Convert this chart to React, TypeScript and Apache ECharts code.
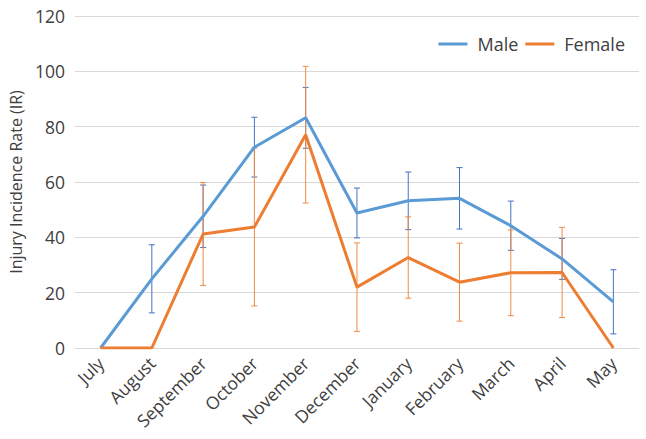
import React, { useEffect, useRef } from "react";
import * as echarts from "echarts";

const months = ["July", "August", "September", "October", "November", "December", "January", "February", "March", "April", "May"];
const maleValues = [0, 25, 47.6, 72.6, 83.2, 48.8, 53.2, 54.1, 44.2, 32.2, 16.7];
const maleErrors = [0, 12.3, 11.3, 10.8, 11, 9, 10.4, 11.1, 8.9, 7.4, 11.6];
const femaleValues = [0, 0, 41.2, 43.7, 77.1, 22, 32.7, 23.8, 27.2, 27.3, 0];
const femaleErrors = [0, 0, 18.6, 28.5, 24.7, 16, 14.7, 14.1, 15.5, 16.3, 0];
const yTicks = [0, 20, 40, 60, 80, 100, 120];

const MALE = "#5B9BD5";
const FEMALE = "#ED7D31";
const MALE_ERR = "#4472C4";
const FEMALE_ERR = "#F08A45";
const FONT = "'Open Sans', 'Noto Sans', sans-serif";

function errorSeries(name: string, values: number[], errors: number[], color: string) {
  const data = values
    .map((v, i) => [i, v - errors[i], v + errors[i], errors[i]])
    .filter((d) => d[3] > 0);
  return {
    type: "custom",
    name: name + "-err",
    data,
    z: 2,
    silent: true,
    renderItem: (params: any, api: any) => {
      const x = api.value(0);
      const lo = api.coord([x, api.value(1)]);
      const hi = api.coord([x, api.value(2)]);
      const w = 3;
      const style = { stroke: color, lineWidth: 1 };
      return {
        type: "group",
        children: [
          { type: "line", shape: { x1: lo[0], y1: lo[1], x2: hi[0], y2: hi[1] }, style },
          { type: "line", shape: { x1: hi[0] - w, y1: hi[1], x2: hi[0] + w, y2: hi[1] }, style },
          { type: "line", shape: { x1: lo[0] - w, y1: lo[1], x2: lo[0] + w, y2: lo[1] }, style },
        ],
      };
    },
  };
}

export default function App() {
  const ref = useRef<HTMLDivElement>(null);
  useEffect(() => {
    if (!ref.current) return;
    const chart = echarts.init(ref.current, undefined, { renderer: "svg" });
    chart.setOption({
      animation: false,
      textStyle: { fontFamily: FONT },
      grid: { left: 74, right: 7, top: 16, bottom: 91, containLabel: false },
      legend: {
        data: ["Male", "Female"],
        right: 16,
        top: 30,
        itemWidth: 29,
        itemHeight: 3,
        itemGap: 7,
        icon: "rect",
        textStyle: { fontSize: 18, color: "#404040", fontFamily: FONT, padding: [0, 0, 0, 5] },
      },
      xAxis: {
        type: "category",
        data: months,
        boundaryGap: true,
        axisLine: { show: true, lineStyle: { color: "#D9D9D9", width: 1 } },
        axisTick: { show: false },
        axisLabel: { rotate: 45, fontSize: 17.5, color: "#404040", margin: 12, interval: 0, fontFamily: FONT },
      },
      yAxis: {
        type: "value",
        min: yTicks[0],
        max: yTicks[yTicks.length - 1],
        interval: 20,
        name: "Injury Incidence Rate (IR)",
        nameLocation: "middle",
        nameGap: 50,
        nameTextStyle: { fontSize: 16, color: "#404040", fontFamily: FONT },
        axisLine: { show: false },
        axisTick: { show: false },
        axisLabel: { fontSize: 17.5, color: "#404040", margin: 10, fontFamily: FONT },
        splitLine: { lineStyle: { color: "#D9D9D9", width: 1 } },
      },
      series: [
        errorSeries("Male", maleValues, maleErrors, MALE_ERR),
        errorSeries("Female", femaleValues, femaleErrors, FEMALE_ERR),
        {
          type: "line",
          name: "Male",
          data: maleValues,
          showSymbol: false,
          symbol: "none",
          z: 3,
          lineStyle: { color: MALE, width: 3 },
          itemStyle: { color: MALE },
        },
        {
          type: "line",
          name: "Female",
          data: femaleValues,
          showSymbol: false,
          symbol: "none",
          z: 4,
          lineStyle: { color: FEMALE, width: 3 },
          itemStyle: { color: FEMALE },
        },
      ],
    });
    return () => chart.dispose();
  }, []);
  return <div ref={ref} style={{ width: 646, height: 439, position: "absolute", left: 0, top: 0 }} />;
}
